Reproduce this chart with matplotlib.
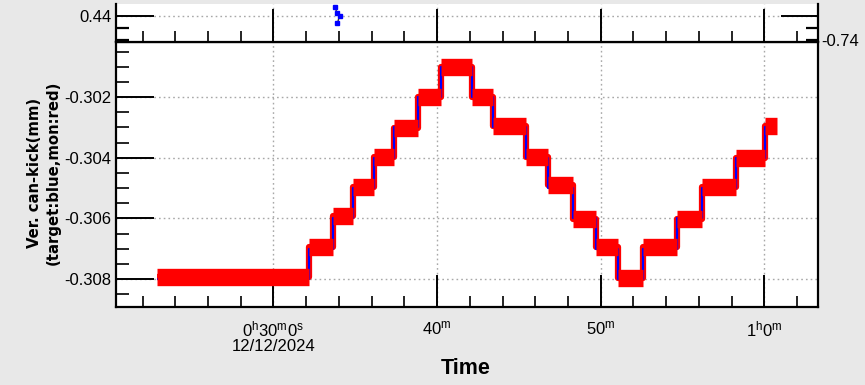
import matplotlib
matplotlib.use("Agg")
import matplotlib.pyplot as plt
from matplotlib.ticker import FixedLocator, MultipleLocator, FixedFormatter

# ---- data (time in minutes after 0h, values in mm) ----
step_edges_min = [22.89, 32.18, 33.65, 34.87, 36.16, 37.38, 38.85, 40.26, 42.15,
                  43.44, 45.46, 46.80, 48.33, 49.74, 51.08, 52.61, 54.69, 56.22,
                  58.30, 60.07, 60.80]
target_levels = [-0.308, -0.307, -0.306, -0.305, -0.304, -0.303, -0.302, -0.301,
                 -0.302, -0.303, -0.304, -0.305, -0.306, -0.307, -0.308, -0.307,
                 -0.306, -0.305, -0.304, -0.303]
monitor_levels = [-0.30792, -0.30695, -0.30591, -0.30497, -0.30398, -0.30303,
                  -0.30201, -0.30102, -0.30200, -0.30296, -0.30398, -0.30491,
                  -0.30601, -0.30695, -0.30797, -0.30695, -0.30601, -0.30497,
                  -0.30401, -0.30296]

top_t = [33.77, 33.88, 34.04, 33.91]
top_v = [0.44388, 0.44113, 0.44013, 0.43696]

x_major = [30, 40, 50, 60]
x_labels = [r"$\mathregular{0^{h}30^{m}0^{s}}$", r"$\mathregular{40^{m}}$",
            r"$\mathregular{50^{m}}$", r"$\mathregular{1^{h}0^{m}}$"]
date_label = "12/12/2024"
y_major = [-0.308, -0.306, -0.304, -0.302]
y_labels = ["-0.308", "-0.306", "-0.304", "-0.302"]

# ---- style ----
plt.rcParams["font.family"] = ["Liberation Sans", "DejaVu Sans"]
BG = "#e8e8e8"
W, H = 865, 385
fig = plt.figure(figsize=(W / 100, H / 100), dpi=100, facecolor=BG)

L, R = 115.7, 818.3
main_top, main_bot = 41.5, 306.7
top_top = 4.3

ax = fig.add_axes([L / W, 1 - main_bot / H, (R - L) / W, (main_bot - main_top) / H])
axt = fig.add_axes([L / W, 1 - main_top / H, (R - L) / W, (main_top - top_top) / H])

xlim = (20.36, 63.30)
grid_kw = dict(color="#a8a8a8", linestyle=(0, (1.2, 2.2)), linewidth=1.0)

# ---- main panel ----
ax.set_facecolor("white")
ax.set_xlim(*xlim)
ax.set_ylim(-0.30891, -0.30017)
for v in x_major:
    ax.axvline(v, zorder=0, **grid_kw)
for v in y_major:
    ax.axhline(v, zorder=0, **grid_kw)

tx = list(step_edges_min)
ty = list(target_levels) + [target_levels[-1]]
my = list(monitor_levels) + [monitor_levels[-1]]
ax.plot(tx, my, drawstyle="steps-post", color="red", lw=4.5, zorder=2,
        solid_capstyle="butt")
ax.plot(tx, ty, drawstyle="steps-post", color="blue", lw=1.6, zorder=2.5,
        solid_capstyle="butt")
ax.hlines(monitor_levels, step_edges_min[:-1], step_edges_min[1:],
          colors="red", lw=12.5, zorder=3)

ax.xaxis.set_major_locator(FixedLocator(x_major))
ax.xaxis.set_major_formatter(FixedFormatter(x_labels))
ax.xaxis.set_minor_locator(MultipleLocator(2))
ax.yaxis.set_major_locator(FixedLocator(y_major))
ax.yaxis.set_major_formatter(FixedFormatter(y_labels))
ax.yaxis.set_minor_locator(MultipleLocator(0.0005))
ax.tick_params(axis="x", which="major", direction="in", length=23, width=1.4,
               pad=9, labelsize=12, top=False)
ax.tick_params(axis="x", which="minor", direction="in", length=8, width=1.2, top=False)
ax.tick_params(axis="y", which="major", direction="in", length=27, width=1.4,
               pad=3, labelsize=12, right=False)
ax.tick_params(axis="y", which="minor", direction="in", length=9, width=1.2, right=False)
for s in ax.spines.values():
    s.set_linewidth(1.6)
    s.set_color("black")

ax.annotate(date_label, xy=(30, 0), xycoords=("data", "axes fraction"),
            xytext=(0, -32), textcoords="offset pixels", ha="center", va="top",
            fontsize=12)

# ---- top panel ----
axt.set_facecolor("white")
axt.set_xlim(*xlim)
axt.set_ylim(0.42938, 0.44488)
for v in x_major:
    axt.axvline(v, zorder=0, **grid_kw)
axt.axhline(0.44, zorder=0, **grid_kw)
axt.plot(top_t, top_v, color="#333333", lw=1, marker="s", ms=3,
         mfc="blue", mec="blue", zorder=3)
axt.xaxis.set_major_locator(FixedLocator(x_major))
axt.xaxis.set_minor_locator(MultipleLocator(2))
axt.set_xticklabels([])
axt.yaxis.set_major_locator(FixedLocator([0.44]))
axt.yaxis.set_major_formatter(FixedFormatter(["0.44"]))
axt.yaxis.set_minor_locator(MultipleLocator(0.005))
axt.tick_params(axis="x", which="major", direction="in", length=24, width=1.4,
                labelbottom=False, top=False)
axt.tick_params(axis="x", which="minor", direction="in", length=8, width=1.2, top=False)
axt.tick_params(axis="y", which="major", direction="in", length=27, width=1.4,
                pad=3, labelsize=12, right=True)
axt.tick_params(axis="y", which="minor", direction="in", length=9, width=1.6, right=True)
axt.spines["top"].set_visible(False)
for k in ("left", "right", "bottom"):
    axt.spines[k].set_linewidth(1.6)

fig.text(821 / W, 1 - 42 / H, "-0.74", ha="left", va="center", fontsize=12)

# ---- labels ----
fig.text(44 / W, 1 - 173 / H, "Ver. can-kick(mm)\n(target:blue,mon:red)",
         rotation=90, ha="center", va="center", multialignment="center",
         fontsize=10.7, fontweight="bold", family="DejaVu Sans", linespacing=1.25)
fig.text(466 / W, 1 - 368 / H, "Time", ha="center", va="center",
         fontsize=15.5, fontweight="bold")

fig.savefig("out.png", dpi=100, facecolor=BG)
